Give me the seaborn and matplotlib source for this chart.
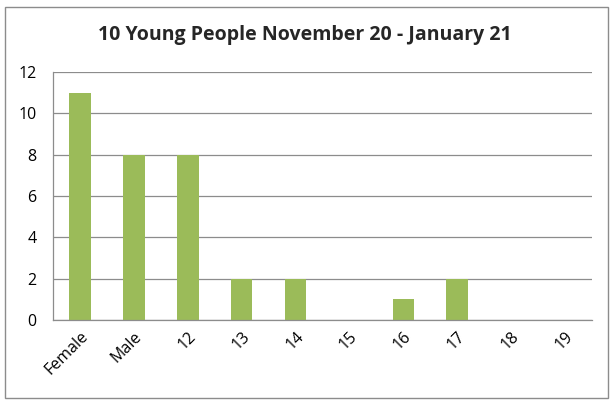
import seaborn as sns
import pandas as pd
import matplotlib.pyplot as plt
from matplotlib.patches import Rectangle

# Data
categories = ['Female', 'Male', '12', '13', '14', '15', '16', '17', '18', '19']
counts = [11, 8, 8, 2, 2, 0, 1, 2, 0, 0]

df = pd.DataFrame({'Category': categories, 'Count': counts})

sns.set_theme(style="white")
plt.rcParams['font.family'] = ['Open Sans', 'DejaVu Sans']

fig = plt.figure(figsize=(6.1, 4.01), dpi=100)
ax = fig.add_axes([53 / 610, 1 - 320 / 401, (592 - 53) / 610, (320 - 72) / 401])

sns.barplot(data=df, x='Category', y='Count', color='#9BBB59', saturation=1,
            width=0.4, linewidth=0, ax=ax)

ax.set_ylim(0, 12)
ax.set_yticks(range(0, 13, 2))
ax.yaxis.grid(True, color='#8C8C8C', linewidth=0.9)
ax.set_axisbelow(True)
ax.set_xlabel('')
ax.set_ylabel('')
for side in ['top', 'right']:
    ax.spines[side].set_visible(False)
for side in ['left', 'bottom']:
    ax.spines[side].set_color('#8C8C8C')
    ax.spines[side].set_linewidth(0.9)
ax.tick_params(axis='both', length=0, labelsize=11.5, colors='#000000')
ax.tick_params(axis='y', pad=12)
ax.tick_params(axis='x', pad=6)
for item in ax.get_xticklabels():
    item.set_rotation(45)
    item.set_ha('right')
    item.set_rotation_mode('anchor')

fig.text(0.5, 1 - 35 / 401, '10 Young People November 20 - January 21',
         ha='center', va='center', fontsize=14, fontweight='bold')

# Chart border
fig.patches.append(Rectangle((5 / 610, 1 - 398 / 401), 603 / 610, 391 / 401,
                             transform=fig.transFigure, fill=False,
                             edgecolor='#8C8C8C', linewidth=1))

fig.savefig('out.png', dpi=100)
